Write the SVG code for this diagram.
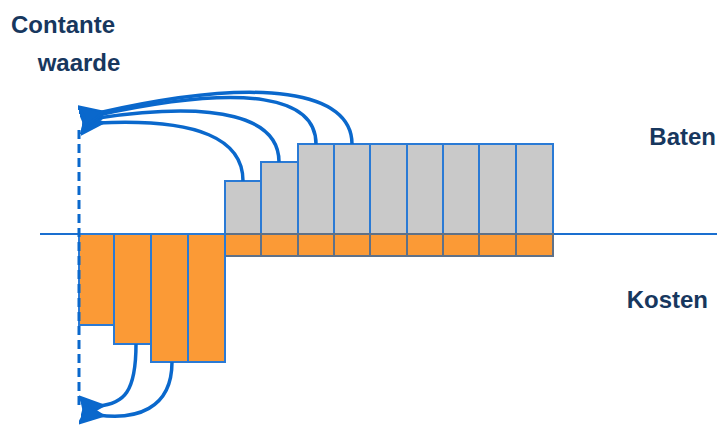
<svg xmlns="http://www.w3.org/2000/svg" width="719" height="426" viewBox="0 0 719 426">
<defs>
<style>
.lbl{font-family:"Liberation Sans",Arial,sans-serif;font-weight:bold;font-size:24px;fill:#17375e}
.gray{fill:#c9c9c9;stroke:#2a7ad5;stroke-width:2}
.org{fill:#fb9a36;stroke:#2a7ad5;stroke-width:2}
.orgs{fill:#fb9a36;stroke:#5f7188;stroke-width:2}
.arc{fill:none;stroke:#0a68cc;stroke-width:3.5;marker-end:url(#ah)}
</style>
<marker id="ah" markerUnits="userSpaceOnUse" markerWidth="24" markerHeight="24" refX="6" refY="12" orient="auto" viewBox="0 0 24 24">
<path d="M24,1 L0,12 L24,23 L20,12 z" fill="#0a68cc" stroke="#0a68cc" stroke-width="2" stroke-linejoin="round"/>
</marker>
</defs>
<rect width="719" height="426" fill="#ffffff"/>
<g id="axis"><line x1="40" y1="234" x2="717" y2="234" stroke="#1a6fd0" stroke-width="2"/></g>
<g id="baten-bars">
<rect class="gray" x="225" y="181" width="36" height="53"/>
<rect class="gray" x="261" y="162" width="37" height="72"/>
<rect class="gray" x="298" y="144" width="36" height="90"/>
<rect class="gray" x="334" y="144" width="36" height="90"/>
<rect class="gray" x="370" y="144" width="37" height="90"/>
<rect class="gray" x="407" y="144" width="36" height="90"/>
<rect class="gray" x="443" y="144" width="36" height="90"/>
<rect class="gray" x="479" y="144" width="37" height="90"/>
<rect class="gray" x="516" y="144" width="37" height="90"/>
</g>
<g id="running-costs">
<rect class="orgs" x="225" y="234" width="36" height="22"/>
<rect class="orgs" x="261" y="234" width="37" height="22"/>
<rect class="orgs" x="298" y="234" width="36" height="22"/>
<rect class="orgs" x="334" y="234" width="36" height="22"/>
<rect class="orgs" x="370" y="234" width="37" height="22"/>
<rect class="orgs" x="407" y="234" width="36" height="22"/>
<rect class="orgs" x="443" y="234" width="36" height="22"/>
<rect class="orgs" x="479" y="234" width="37" height="22"/>
<rect class="orgs" x="516" y="234" width="37" height="22"/>
</g>
<g id="kosten-bars">
<rect class="org" x="79" y="234" width="35" height="91"/>
<rect class="org" x="114" y="234" width="37" height="110"/>
<rect class="org" x="151" y="234" width="37" height="128"/>
<rect class="org" x="188" y="234" width="37" height="128"/>
</g>
<g id="connectors">
<line x1="79" y1="130" x2="79" y2="408" stroke="#0a68cc" stroke-width="3" stroke-dasharray="9 5"/>
<path class="arc" d="M243,181 C243,140 200,118 98,123"/>
<path class="arc" d="M279,162 C279,118 220,100 98,118"/>
<path class="arc" d="M316,144 C316,98 250,82 98,115"/>
<path class="arc" d="M352,144 C352,92 265,75 98,113"/>
<path class="arc" d="M136,344 C136,392 124,404 98,406"/>
<path class="arc" d="M172,362 C172,410 135,420 98,415"/>
</g>
<g id="labels">
<text class="lbl" x="63" y="33" text-anchor="middle" font-size="25">Contante</text>
<text class="lbl" x="79" y="71" text-anchor="middle" font-size="25">waarde</text>
<text class="lbl" x="716" y="145" text-anchor="end">Baten</text>
<text class="lbl" x="708" y="308" text-anchor="end">Kosten</text>
</g>
</svg>
